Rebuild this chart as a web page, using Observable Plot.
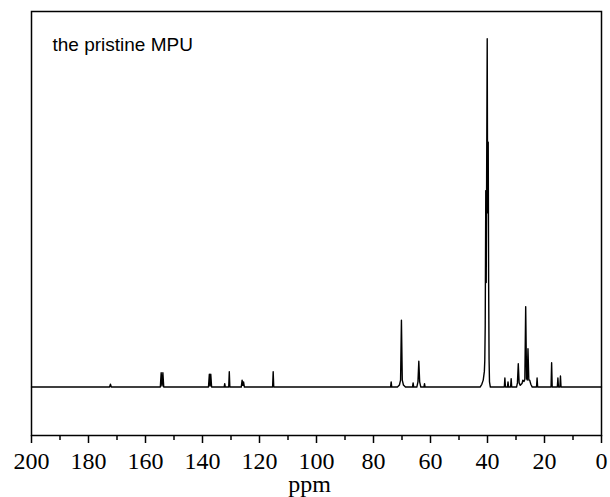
<!DOCTYPE html>
<html>
<head>
<meta charset="utf-8">
<script src="https://cdn.jsdelivr.net/npm/d3@7"></script>
<script src="https://cdn.jsdelivr.net/npm/@observablehq/plot@0.6"></script>
<style>
  html, body { margin: 0; padding: 0; background: #fff; }
</style>
</head>
<body>
<div id="chart"></div>
<script>
// Spectrum vertices (chemical shift in ppm, relative intensity)
const spectrumPpm = [
  200,
  172.6, 172.3, 172.0,
  154.8, 154.5, 154.2, 153.9, 153.6,
  137.9, 137.6, 137.35, 137.1, 136.8,
  132.4, 132.2, 132.0,
  130.8, 130.6, 130.4,
  126.4, 126.1, 125.85, 125.6, 125.3,
  115.4, 115.2, 115.0,
  74.0, 73.8, 73.6,
  71.6, 70.9, 70.5, 70.2, 69.9, 69.5, 68.8,
  66.3, 66.1, 65.9,
  64.8, 64.4, 64.1, 63.8, 63.4,
  62.3, 62.1, 61.9,
  42.6, 42.0, 41.5, 41.1, 40.95, 40.8, 40.6, 40.45, 40.3, 40.1, 39.95, 39.75, 39.6, 39.45, 39.3, 39.0,
  34.1, 33.9, 33.7,
  33.0, 32.8, 32.6,
  31.9, 31.7, 31.5,
  29.8, 29.5, 29.2, 28.9, 28.5,
  27.9, 27.6, 27.2, 26.9, 26.6, 26.3, 26.05, 25.8, 25.5, 25.2, 24.8, 24.3,
  22.8, 22.6, 22.4,
  17.7, 17.5, 17.3,
  15.5, 15.3, 15.1,
  14.6, 14.4, 14.2,
  0
];
const spectrumIntensity = [
  0,
  0, 0.8, 0,
  0, 4.1, 0.3, 4.1, 0,
  0, 3.7, 0.3, 3.7, 0,
  0, 1.0, 0,
  0, 4.4, 0,
  0, 2.0, 0.5, 1.5, 0,
  0, 4.4, 0,
  0, 1.5, 0,
  0, 0.6, 2.0, 19.2, 2.0, 0.6, 0,
  0, 1.2, 0,
  0, 1.5, 7.4, 1.5, 0,
  0, 1.0, 0,
  0, 0.8, 2, 4.5, 7.6, 17.7, 56.4, 30, 60, 100, 50, 70.3, 30, 8, 1.5, 0,
  0, 2.6, 0,
  0, 1.5, 0,
  0, 2.4, 0,
  0, 1.2, 6.7, 1.2, 0.5,
  1.0, 2.0, 1.6, 2.2, 23.1, 2.5, 2.0, 11.0, 2.0, 2.0, 0.8, 0,
  0, 2.6, 0,
  0, 7.0, 0,
  0, 2.6, 0,
  0, 3.2, 0,
  0
];
const majorTicks = [200, 180, 160, 140, 120, 100, 80, 60, 40, 20, 0];
const minorTicks = [190, 170, 150, 130, 110, 90, 70, 50, 30, 10];
const sampleLabel = "the pristine MPU";
const axisTitle = "ppm";

const spectrum = spectrumPpm.map((p, i) => ({ppm: p, intensity: spectrumIntensity[i]}));

const chart = Plot.plot({
  width: 610,
  height: 497,
  marginLeft: 31,
  marginRight: 9,
  marginTop: 11,
  marginBottom: 62,
  style: { background: "white", fontFamily: "Liberation Serif", color: "black" },
  x: { domain: [200, 0] },
  y: { domain: [-13.9, 107.8], axis: null },
  marks: [
    Plot.line(spectrum, { x: "ppm", y: "intensity", stroke: "black", strokeWidth: 1.4 }),
    Plot.axisX(minorTicks, { anchor: "bottom", tickSize: 5, text: null, label: null, stroke: "black", strokeWidth: 1.5 }),
    Plot.axisX(majorTicks, { anchor: "bottom", tickSize: 8, text: null, label: null, stroke: "black", strokeWidth: 1.5 }),
    Plot.text(majorTicks, { x: d => d, frameAnchor: "bottom", dy: 16, lineAnchor: "top", text: d => String(d), fontSize: 24, fontFamily: "Liberation Serif", fill: "black" }),
    Plot.frame({ stroke: "black", strokeWidth: 1.5 }),
    Plot.text([axisTitle], { frameAnchor: "bottom", dx: -7, dy: 56.5, lineAnchor: "bottom", fontSize: 24, fontFamily: "Liberation Serif", fill: "black" }),
    Plot.text([sampleLabel], { frameAnchor: "top-left", dx: 21, dy: 39, lineAnchor: "bottom", textAnchor: "start", fontSize: 19, fontFamily: "Liberation Sans", fill: "black" })
  ]
});
document.getElementById("chart").appendChild(chart);
</script>
</body>
</html>
